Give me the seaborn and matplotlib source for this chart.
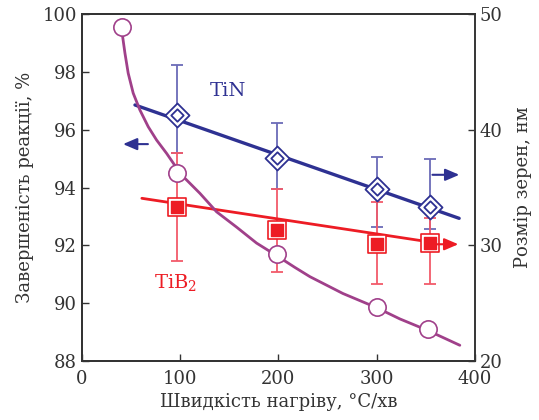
import numpy as np
import pandas as pd
import matplotlib
matplotlib.use("Agg")
import matplotlib.pyplot as plt
import seaborn as sns

# heating rate, degC/min
rate_circ = [41, 97, 199, 300, 352]
completion = [99.53, 94.49, 91.70, 89.88, 89.10]  # reaction completeness, %

# purple trend curve
curve_x = [41.4, 43.8, 47.1, 52.2, 59.0, 67.5, 76.0, 86.2, 96.7, 104.8, 120.1, 137.1,
           157.5, 177.8, 199.0, 216.8, 232.1, 265.6, 300.0, 323.7, 351.5, 384.7]
curve_y = [99.22, 98.64, 97.95, 97.26, 96.68, 96.10, 95.64, 95.18, 94.66, 94.32, 93.80, 93.16,
           92.63, 92.08, 91.63, 91.24, 90.92, 90.34, 89.85, 89.46, 89.07, 88.55]

# grain size, nm
rate_pts = [97, 199, 300, 354]
tin_size = [41.27, 37.52, 34.84, 33.29]
tin_low = [38.01, 34.87, 31.61, 31.41]
tin_high = [45.59, 40.60, 37.66, 37.46]
tib2_size = [33.34, 31.36, 30.12, 30.18]
tib2_low = [28.67, 27.72, 26.63, 26.63]
tib2_high = [37.96, 34.87, 33.77, 32.36]

# trend lines
tin_line_x = [54, 384]
tin_line_y = [42.13, 32.34]
tib2_line_x = [61, 354]
tib2_line_y = [34.07, 30.30]

navy = "#2e3192"
navy_light = "#6b6bb8"
red = "#ed1c24"
red_light = "#f25a6a"
purple = "#a0408a"

sns.set_theme(style="ticks")
plt.rcParams["font.family"] = ["DejaVu Serif"]
plt.rcParams["mathtext.fontset"] = "dejavuserif"

fig, ax = plt.subplots(figsize=(5.39, 4.2), dpi=100)
fig.subplots_adjust(left=0.152, right=0.881, top=0.967, bottom=0.14)
ax2 = ax.twinx()
ax.set_zorder(ax2.get_zorder() + 1)
ax.patch.set_visible(False)

# right axis: grain sizes
ax2.errorbar(rate_pts, tin_size,
             yerr=[np.subtract(tin_size, tin_low), np.subtract(tin_high, tin_size)],
             fmt="none", ecolor=navy_light, elinewidth=1.3, capsize=4, capthick=1.3, zorder=1)
ax2.errorbar(rate_pts, tib2_size,
             yerr=[np.subtract(tib2_size, tib2_low), np.subtract(tib2_high, tib2_size)],
             fmt="none", ecolor=red_light, elinewidth=1.3, capsize=4, capthick=1.3, zorder=1)
sns.lineplot(x=tin_line_x, y=tin_line_y, ax=ax2, color=navy, linewidth=2.4, zorder=2)
sns.lineplot(x=tib2_line_x, y=tib2_line_y, ax=ax2, color=red, linewidth=2.0, zorder=2)
sns.scatterplot(x=rate_pts, y=tin_size, ax=ax2, marker="D", s=150, color="white",
                edgecolor=navy, linewidth=1.3, zorder=3)
sns.scatterplot(x=rate_pts, y=tin_size, ax=ax2, marker="D", s=40, color="white",
                edgecolor=navy, linewidth=1.3, zorder=4)
sns.scatterplot(x=rate_pts, y=tib2_size, ax=ax2, marker="s", s=160, color="white",
                edgecolor=red, linewidth=1.2, zorder=3)
sns.scatterplot(x=rate_pts, y=tib2_size, ax=ax2, marker="s", s=70, color=red,
                edgecolor=red, linewidth=1.0, zorder=4)

# left axis: reaction completeness
sns.lineplot(x=curve_x, y=curve_y, ax=ax, color=purple, linewidth=2.0, sort=False, zorder=2)
sns.scatterplot(x=rate_circ, y=completion, ax=ax, marker="o", s=155, color="white",
                edgecolor=purple, linewidth=1.2, zorder=3)

# arrows pointing to the axes
ax.annotate("", xy=(39, 95.5), xytext=(70, 95.5),
            arrowprops=dict(arrowstyle="-|>,head_length=0.7,head_width=0.3",
                            color=navy, lw=1.5))
ax2.annotate("", xy=(387, 36.1), xytext=(354, 36.1),
             arrowprops=dict(arrowstyle="-|>,head_length=0.7,head_width=0.3",
                             color=navy, lw=1.5))
ax2.annotate("", xy=(386, 30.1), xytext=(358, 30.1),
             arrowprops=dict(arrowstyle="-|>,head_length=0.7,head_width=0.3",
                             color=red, lw=1.5))

ax2.text(149, 43.3, "TiN", color=navy, fontsize=14, ha="center", va="center")
ax2.text(95, 26.8, r"TiB$_2$", color=red, fontsize=14, ha="center", va="center")

ax.set_xlim(0, 400)
ax.set_ylim(88, 100)
ax2.set_ylim(20, 50)
ax.set_xticks([0, 100, 200, 300, 400])
ax.set_yticks([88, 90, 92, 94, 96, 98, 100])
ax2.set_yticks([20, 30, 40, 50])
ax.set_xlabel("Швидкість нагріву, °C/хв", fontsize=13, color="#333333", labelpad=4)
ax.set_ylabel("Завершеність реакції, %", fontsize=13, color="#333333", labelpad=6)
ax2.set_ylabel("Розмір зерен, нм", fontsize=13, color="#333333", labelpad=8)

for a in (ax, ax2):
    a.tick_params(direction="in", length=5, width=1.0, labelsize=13,
                  labelcolor="#333333", color="#333333")
    for sp in a.spines.values():
        sp.set_visible(True)
        sp.set_linewidth(1.3)
        sp.set_color("#333333")
ax2.spines["right"].set_color("#777777")
ax.tick_params(axis="y", right=False)
ax.tick_params(axis="x", top=False, pad=6)

fig.savefig("out.png", dpi=100)
